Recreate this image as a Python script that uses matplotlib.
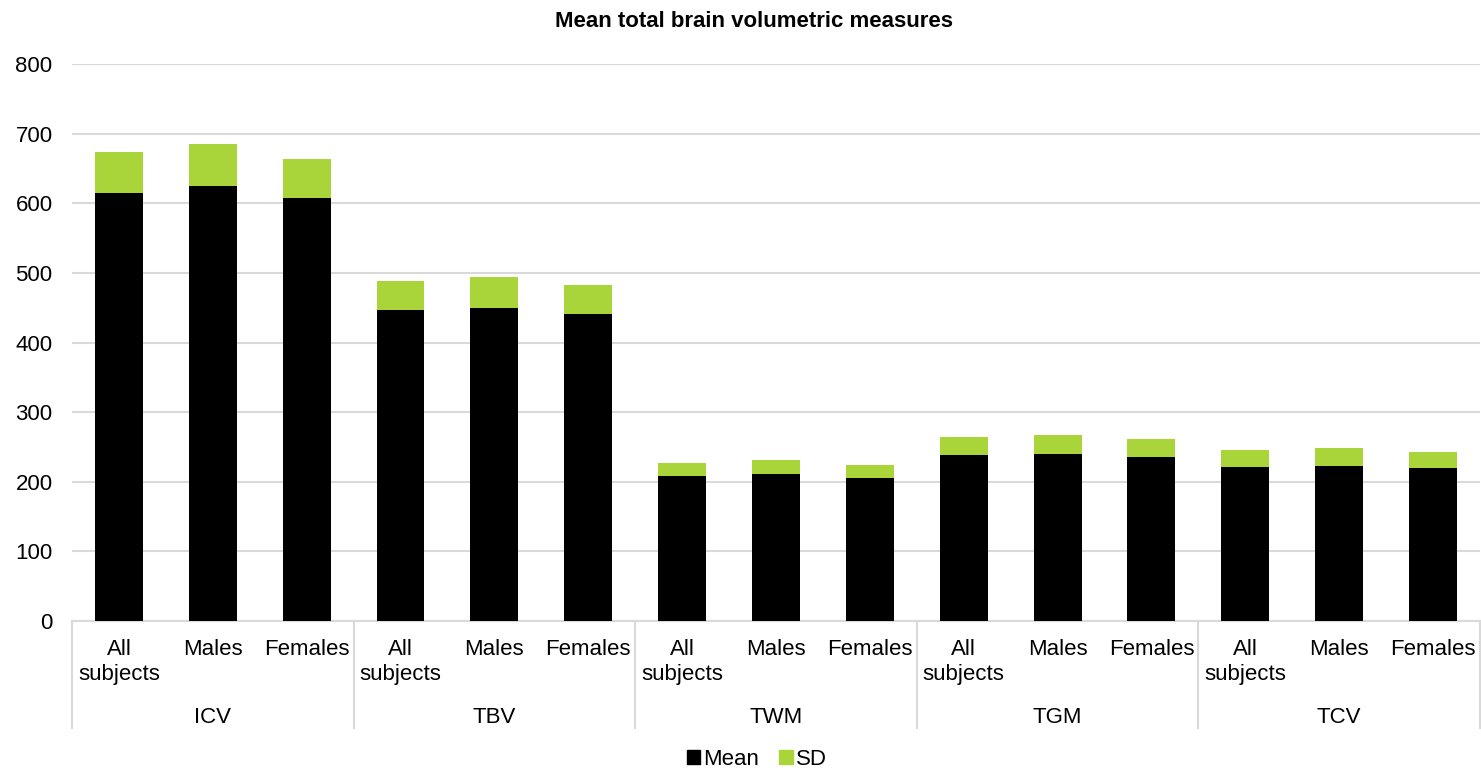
import numpy as np
import matplotlib.pyplot as plt
from matplotlib.transforms import blended_transform_factory
from matplotlib.patches import Patch

# data
groups = ["ICV", "TBV", "TWM", "TGM", "TCV"]
subgroups = ["All\nsubjects", "Males", "Females"]
mean_vals = [615, 625, 608, 447, 450, 441, 208, 211, 205, 238, 240, 236, 221, 223, 220]
sd_vals = [59, 60, 56, 41, 44, 42, 19, 20, 19, 26, 27, 25, 25, 25, 23]

plt.rcParams['font.family'] = ['Liberation Sans', 'DejaVu Sans']

fig = plt.figure(figsize=(14.81, 7.73), dpi=100)
ax = fig.add_axes([0.0486, 0.1966, 0.9507, 0.7204])

green = "#A9D43A"
x = np.arange(len(mean_vals))
ax.bar(x, mean_vals, width=0.51, color="black", zorder=3)
ax.bar(x, sd_vals, width=0.51, bottom=mean_vals, color=green, zorder=3)

ax.set_xlim(-0.5, len(mean_vals) - 0.5)
ax.set_ylim(0, 800)
ax.set_yticks(range(0, 801, 100))
ax.tick_params(axis='y', length=0, labelsize=16, pad=14)
ax.yaxis.grid(True, color="#d9d9d9", linewidth=1.5, zorder=0)

for s in ["top", "right", "left"]:
    ax.spines[s].set_visible(False)
ax.spines["bottom"].set_color("#d9d9d9")
ax.spines["bottom"].set_linewidth(1.5)

ax.set_xticks(x)
ax.set_xticklabels(subgroups * len(groups), fontsize=16, linespacing=1.25)
ax.tick_params(axis='x', length=0, pad=13)
for lbl in ax.get_xticklabels():
    lbl.set_verticalalignment("top")

trans = blended_transform_factory(ax.transData, ax.transAxes)
n = len(subgroups)
for i, g in enumerate(groups):
    ax.text(i * n + 1, -0.174, g, transform=trans, ha="center", va="center", fontsize=16)
for i in range(len(groups) + 1):
    ax.plot([i * n - 0.5, i * n - 0.5], [0, -0.192], transform=trans,
            color="#d9d9d9", linewidth=1.5, clip_on=False)

fig.text(0.509, 0.972, "Mean total brain volumetric measures", fontsize=16,
         fontweight="bold", ha="center", va="center")

handles = [Patch(color="black", label="Mean"), Patch(color=green, label="SD")]
fig.legend(handles=handles, loc="lower center", ncol=2, frameon=False, fontsize=16,
           bbox_to_anchor=(0.511, -0.022), handlelength=0.6, handleheight=0.6,
           handletextpad=0.15, columnspacing=0.9)

fig.savefig("out.png", dpi=100)
